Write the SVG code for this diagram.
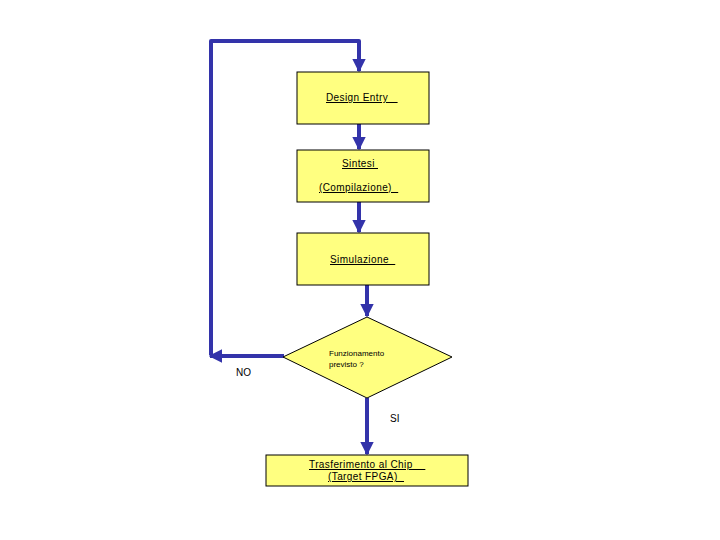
<svg xmlns="http://www.w3.org/2000/svg" width="720" height="540" viewBox="0 0 720 540">
<style>
.box{fill:#ffff80;stroke:#000;stroke-width:1}
.t{font-family:"Liberation Sans",Arial,sans-serif;font-size:10px;fill:#000;text-decoration:underline;letter-spacing:0.4px}
.s{font-family:"Liberation Sans",Arial,sans-serif;font-size:8px;fill:#000}
.l{font-family:"Liberation Sans",Arial,sans-serif;font-size:10px;fill:#000}
.c{fill:none;stroke:#3333aa;stroke-width:4;stroke-linejoin:round}
</style>
<defs>
<marker id="ah" viewBox="0 0 10 10" refX="9" refY="5" markerWidth="3.4" markerHeight="3.4" orient="auto" markerUnits="strokeWidth">
<path d="M0,0 L10,5 L0,10 z" fill="#3333aa"/>
</marker>
</defs>
<rect width="720" height="540" fill="#fff"/>
<g id="connectors">
<polyline class="c" points="211,355 211,41 359,41 359,71" marker-end="url(#ah)"/>
<line class="c" x1="359" y1="124" x2="359" y2="149" marker-end="url(#ah)"/>
<line class="c" x1="359" y1="202" x2="359" y2="232" marker-end="url(#ah)"/>
<line class="c" x1="367" y1="285" x2="367" y2="316" marker-end="url(#ah)"/>
<line class="c" x1="284" y1="356" x2="210" y2="356" marker-end="url(#ah)"/>
<line class="c" x1="367" y1="398" x2="367" y2="454" marker-end="url(#ah)"/>
</g>
<g id="n1">
<rect class="box" x="297" y="72" width="132" height="52"/>
<text class="t" x="326" y="101" xml:space="preserve">Design Entry&#160;&#160;&#160;</text>
</g>
<g id="n2">
<rect class="box" x="297" y="150" width="132" height="52"/>
<text class="t" x="342" y="167" xml:space="preserve">Sintesi&#160;</text>
<text class="t" x="319" y="191" xml:space="preserve">(Compilazione)&#160;&#160;</text>
</g>
<g id="n3">
<rect class="box" x="297" y="233" width="132" height="52"/>
<text class="t" x="330" y="263" xml:space="preserve">Simulazione&#160;&#160;</text>
</g>
<g id="n4">
<polygon class="box" points="367,317 452,357 367,398 283,357"/>
<text class="s" x="329" y="356">Funzionamento</text>
<text class="s" x="329" y="367">previsto ?</text>
</g>
<text class="l" x="236" y="376">NO</text>
<text class="l" x="390" y="422">SI</text>
<g id="n5">
<rect class="box" x="266" y="455" width="202" height="31"/>
<text class="t" x="309" y="468" xml:space="preserve">Trasferimento al Chip&#160;&#160;&#160;&#160;</text>
<text class="t" x="328" y="480" xml:space="preserve">(Target FPGA)&#160;&#160;</text>
</g>
</svg>
